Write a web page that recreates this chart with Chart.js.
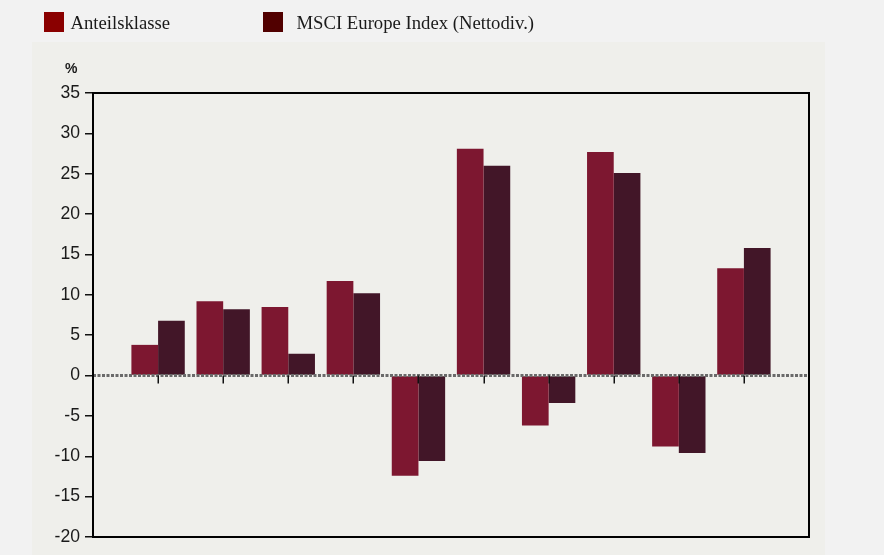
<!DOCTYPE html>
<html>
<head>
<meta charset="utf-8">
<script src="https://cdn.jsdelivr.net/npm/chart.js@4/dist/chart.umd.min.js"></script>
<style>
  html, body { margin: 0; padding: 0; background: #f2f2f2; }
  #wrap { position: relative; width: 884px; height: 555px; overflow: hidden; }
  #chart { position: absolute; left: 0; top: 0; }
  .sw { position: absolute; top: 12px; width: 20px; height: 20px; }
  .lg { position: absolute; top: 14px; font-family: "Liberation Serif", serif; font-size: 18.7px; color: #1a1a1a; line-height: 18.7px; white-space: nowrap; }
  #pct { position: absolute; left: 65px; top: 60px; font-family: "Liberation Sans", Arial, sans-serif; font-size: 14px; font-weight: bold; color: #1a1a1a; }
</style>
</head>
<body>
<div id="wrap">
  <canvas id="chart" width="884" height="555"></canvas>
  <span class="sw" style="left:44px;background:#8a0000"></span>
  <div class="lg" style="left:70.5px">Anteilsklasse</div>
  <span class="sw" style="left:263px;background:#510000"></span>
  <div class="lg" style="left:296.5px">MSCI Europe Index (Nettodiv.)</div>
  <div id="pct">%</div>
</div>
<script>
// Categories (no labels shown in the reference; first and last slots are empty)
const categories = ['', '', '', '', '', '', '', '', '', '', '', ''];
const seriesNames = ['Anteilsklasse', 'MSCI Europe Index (Nettodiv.)'];
const anteilsklasse = [null, 3.8, 9.2, 8.5, 11.7, -12.4, 28.1, -6.2, 27.7, -8.8, 13.3, null];
const msciEurope   = [null, 6.8, 8.2, 2.7, 10.2, -10.6, 26.0, -3.4, 25.1, -9.6, 15.8, null];
const yTicks = [-20, -15, -10, -5, 0, 5, 10, 15, 20, 25, 30, 35];

const panelPlugin = {
  id: 'panel',
  beforeDraw(chart) {
    const ctx = chart.ctx;
    ctx.save();
    ctx.fillStyle = '#efefeb';
    ctx.fillRect(32, 42, 793, 513);
    ctx.restore();
  },
  afterDatasetsDraw(chart) {
    const ctx = chart.ctx;
    const a = chart.chartArea;
    const x = chart.scales.x, y = chart.scales.y;
    const y0 = y.getPixelForValue(0);
    ctx.save();
    // zero line (dotted)
    ctx.strokeStyle = '#6a6a6a';
    ctx.lineWidth = 3;
    ctx.setLineDash([3, 1.5]);
    ctx.beginPath();
    ctx.moveTo(a.left, y0);
    ctx.lineTo(a.right, y0);
    ctx.stroke();
    ctx.setLineDash([]);
    // category ticks on zero line
    ctx.strokeStyle = '#111';
    ctx.lineWidth = 1.5;
    for (let i = 1; i < categories.length - 1; i++) {
      const px = Math.round(x.getPixelForValue(i)) + 0.25;
      ctx.beginPath();
      ctx.moveTo(px, y0);
      ctx.lineTo(px, y0 + 8);
      ctx.stroke();
    }
    // frame
    ctx.strokeStyle = '#000';
    ctx.lineWidth = 2;
    ctx.strokeRect(a.left, a.top, a.right - a.left, a.bottom - a.top);
    ctx.restore();
  }
};

new Chart(document.getElementById('chart'), {
  type: 'bar',
  data: {
    labels: categories,
    datasets: [
      { label: seriesNames[0], data: anteilsklasse, backgroundColor: '#7d1730', borderWidth: 0 },
      { label: seriesNames[1], data: msciEurope, backgroundColor: '#421628', borderWidth: 0 }
    ]
  },
  options: {
    responsive: false,
    animation: false,
    events: [],
    layout: { padding: { top: 93, left: 0, right: 75, bottom: 18 } },
    plugins: { legend: { display: false }, tooltip: { enabled: false } },
    datasets: { bar: { categoryPercentage: 0.82, barPercentage: 1.0 } },
    scales: {
      x: {
        type: 'category',
        display: false,
        offset: false,
        grid: { offset: false }
      },
      y: {
        min: -20,
        max: 35,
        afterFit(scale) { scale.width = 93; },
        afterBuildTicks(scale) { scale.ticks = yTicks.map(v => ({ value: v })); },
        ticks: {
          color: '#1a1a1a',
          font: { family: '"Liberation Sans Narrow", "Arial Narrow", "Liberation Sans", sans-serif', size: 17.6 },
          padding: 5
        },
        grid: { drawOnChartArea: false, drawTicks: true, tickLength: 8, color: '#111', lineWidth: 1.5 },
        border: { display: true, color: '#000', width: 2 }
      }
    }
  },
  plugins: [panelPlugin]
});
</script>
</body>
</html>
